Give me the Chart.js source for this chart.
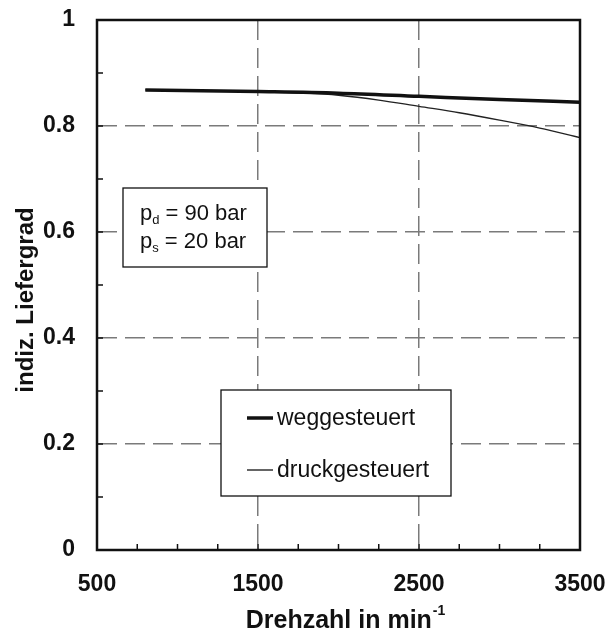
<!DOCTYPE html>
<html>
<head>
<meta charset="utf-8">
<script src="https://cdn.jsdelivr.net/npm/chart.js@4"></script>
<style>
  html, body { margin: 0; padding: 0; background: #fff; }
  canvas { display: block; }
</style>
</head>
<body>
<canvas id="chart" width="607" height="631"></canvas>
<script>
// values
const wegRpm = [800, 1500, 2000, 2500, 3000, 3500];
const wegValues = [0.868, 0.865, 0.862, 0.856, 0.850, 0.845];
const druckRpm = [800, 1500, 1800, 2000, 2250, 2500, 2750, 3000, 3250, 3500];
const druckValues = [0.868, 0.865, 0.862, 0.858, 0.849, 0.837, 0.825, 0.811, 0.796, 0.778];
const xLabels = [500, 1500, 2500, 3500];
const yLabels = [0, 0.2, 0.4, 0.6, 0.8, 1];
const xGrid = [1500, 2500];
const yGrid = [0.2, 0.4, 0.6, 0.8];

const FONT = '"Liberation Sans", Arial, sans-serif';
const GRID = '#7a7a7a';

function toPoints(xs, ys) {
    return xs.map((x, i) => ({ x: x, y: ys[i] }));
}

// frame, inward minor ticks, boxes and axis titles
const decorations = {
    id: 'decorations',
    afterDatasetsDraw(chart) {
        const ctx = chart.ctx;
        const area = chart.chartArea;
        const xs = chart.scales.x;
        const ys = chart.scales.y;
        ctx.save();

        // inward ticks
        ctx.strokeStyle = '#111';
        ctx.lineWidth = 1.5;
        ctx.beginPath();
        xs.ticks.forEach(t => {
            const px = xs.getPixelForValue(t.value);
            ctx.moveTo(px, area.bottom);
            ctx.lineTo(px, area.bottom - 6);
        });
        ys.ticks.forEach(t => {
            const py = ys.getPixelForValue(t.value);
            ctx.moveTo(area.left, py);
            ctx.lineTo(area.left + 6, py);
        });
        ctx.stroke();

        // frame
        ctx.lineWidth = 2.5;
        ctx.strokeRect(area.left, area.top, area.right - area.left, area.bottom - area.top);

        // pressure box
        ctx.fillStyle = '#fff';
        ctx.lineWidth = 1.3;
        ctx.fillRect(123, 188, 144, 79);
        ctx.strokeRect(123, 188, 144, 79);
        ctx.fillStyle = '#111';
        ctx.textBaseline = 'alphabetic';
        ctx.textAlign = 'left';
        const pLines = [['d', ' = 90 bar', 220], ['s', ' = 20 bar', 248]];
        pLines.forEach(([sub, rest, base]) => {
            ctx.font = '22px ' + FONT;
            ctx.fillText('p', 140, base);
            let x = 140 + ctx.measureText('p').width;
            ctx.font = '13px ' + FONT;
            ctx.fillText(sub, x, base + 4);
            x += ctx.measureText(sub).width;
            ctx.font = '22px ' + FONT;
            ctx.fillText(rest, x, base);
        });

        // legend box
        ctx.fillStyle = '#fff';
        ctx.fillRect(221, 390, 230, 106);
        ctx.strokeRect(221, 390, 230, 106);
        const rows = [418, 470];
        chart.data.datasets.forEach((ds, i) => {
            ctx.strokeStyle = '#111';
            ctx.lineWidth = ds.borderWidth;
            ctx.beginPath();
            ctx.moveTo(247, rows[i]);
            ctx.lineTo(273, rows[i]);
            ctx.stroke();
            ctx.fillStyle = '#111';
            ctx.font = '23px ' + FONT;
            ctx.textBaseline = 'middle';
            ctx.fillText(ds.label, 277, rows[i] + 1);
        });

        // x title with superscript
        ctx.font = 'bold 25px ' + FONT;
        ctx.textBaseline = 'alphabetic';
        const main = 'Drehzahl in min';
        const sup = '-1';
        const wMain = ctx.measureText(main).width;
        ctx.font = 'bold 14px ' + FONT;
        const wSup = ctx.measureText(sup).width;
        const x0 = 345 - (wMain + wSup) / 2;
        ctx.font = 'bold 25px ' + FONT;
        ctx.fillText(main, x0, 628);
        ctx.font = 'bold 14px ' + FONT;
        ctx.fillText(sup, x0 + wMain + 1, 615);

        // y title
        ctx.translate(33, 300);
        ctx.rotate(-Math.PI / 2);
        ctx.font = 'bold 24px ' + FONT;
        ctx.textAlign = 'center';
        ctx.fillText('indiz. Liefergrad', 0, 0);

        ctx.restore();
    }
};

const config = {
    type: 'line',
    data: {
        datasets: [
            {
                label: 'weggesteuert',
                data: toPoints(wegRpm, wegValues),
                borderColor: '#111',
                borderWidth: 3.5,
                pointRadius: 0,
                cubicInterpolationMode: 'monotone'
            },
            {
                label: 'druckgesteuert',
                data: toPoints(druckRpm, druckValues),
                borderColor: '#222',
                borderWidth: 1.3,
                pointRadius: 0,
                cubicInterpolationMode: 'monotone'
            }
        ]
    },
    options: {
        responsive: false,
        animation: false,
        layout: { padding: { top: 20, right: 27, left: 0, bottom: 0 } },
        plugins: {
            legend: { display: false },
            tooltip: { enabled: false }
        },
        scales: {
            x: {
                type: 'linear',
                min: 500,
                max: 3500,
                afterFit(scale) {
                    scale.height = 81;
                    scale.paddingLeft = 0;
                    scale.paddingRight = 0;
                },
                ticks: {
                    stepSize: 250,
                    padding: 21,
                    color: '#111',
                    font: { family: FONT, size: 23, weight: 'bold' },
                    maxRotation: 0,
                    autoSkip: false,
                    callback: v => xLabels.includes(v) ? String(v) : ''
                },
                grid: {
                    drawTicks: false,
                    lineWidth: 1.5,
                    color: c => xGrid.includes(c.tick && c.tick.value) ? GRID : 'rgba(0,0,0,0)'
                },
                border: { display: false, dash: [20, 8] }
            },
            y: {
                min: 0,
                max: 1,
                afterFit(scale) {
                    scale.width = 97;
                    scale.paddingTop = 0;
                    scale.paddingBottom = 0;
                },
                ticks: {
                    stepSize: 0.1,
                    padding: 22,
                    color: '#111',
                    font: { family: FONT, size: 23, weight: 'bold' },
                    autoSkip: false,
                    callback: v => {
                        const r = Math.round(v * 10) / 10;
                        return yLabels.includes(r) ? String(r) : '';
                    }
                },
                grid: {
                    drawTicks: false,
                    lineWidth: 1.5,
                    color: c => {
                        const r = c.tick ? Math.round(c.tick.value * 10) / 10 : -1;
                        return yGrid.includes(r) ? GRID : 'rgba(0,0,0,0)';
                    }
                },
                border: { display: false, dash: [20, 8] }
            }
        }
    },
    plugins: [decorations]
};

new Chart(document.getElementById('chart'), config);
</script>
</body>
</html>
